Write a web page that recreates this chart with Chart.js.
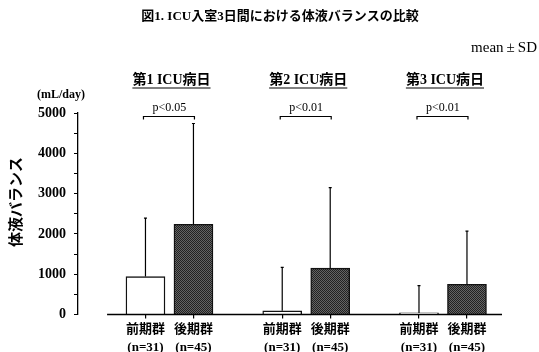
<!DOCTYPE html>
<html>
<head>
<meta charset="utf-8">
<script src="https://cdn.jsdelivr.net/npm/chart.js@4.4.1/dist/chart.umd.min.js"></script>
<style>
  html, body { margin: 0; padding: 0; background: #fff; }
  #wrap { width: 539px; height: 352px; }
</style>
</head>
<body>
<div id="wrap"><canvas id="chart" width="539" height="352"></canvas></div>
<script>
// ICU day headings and the two patient groups
const days = ['第1 ICU病日', '第2 ICU病日', '第3 ICU病日'];
const groups = ['前期群', '後期群'];
const groupN = ['(n=31)', '(n=45)'];

// Fluid balance (mL/day): mean and SD per ICU day
const earlyMean = [940, 90, 40];
const earlySD = [1450, 1080, 675];
const lateMean = [2240, 1150, 750];
const lateSD = [2500, 2000, 1320];

// Significance between groups on each day
const pLabels = ['p<0.05', 'p<0.01', 'p<0.01'];

// Y axis
const yMin = 0, yMax = 5000, yMajor = 1000, yMinor = 500;

// Layout of the x axis (in bar units)
const GROUP_STEP = 2.85;
const X_MIN = -1.406, X_MAX = 7.43, BASELINE_START = -0.8;

const SERIF_JP = "'Liberation Serif', 'Noto Sans CJK JP', serif";
const SANS_JP = "'Noto Sans CJK JP', sans-serif";

// Bar positions on the linear x scale: group g, bar i
const positions = [];
const values = [];
const sds = [];
const fills = [];

// Dithered dark fill for the later group
function darkPattern() {
  const c = document.createElement('canvas');
  c.width = 2; c.height = 2;
  const g = c.getContext('2d');
  g.fillStyle = '#646464'; g.fillRect(0, 0, 2, 2);
  g.fillStyle = '#222222'; g.fillRect(0, 0, 1, 1); g.fillRect(1, 1, 1, 1);
  return g.createPattern(c, 'repeat');
}
const dark = darkPattern();

for (let g = 0; g < days.length; g++) {
  positions.push(g * GROUP_STEP, g * GROUP_STEP + 1);
  values.push(earlyMean[g], lateMean[g]);
  sds.push(earlySD[g], lateSD[g]);
  fills.push('#ffffff', dark);
}

const annotations = {
  id: 'annotations',
  afterDraw(chart) {
    const ctx = chart.ctx;
    const area = chart.chartArea;
    const xs = chart.scales.x, ys = chart.scales.y;
    const meta = chart.getDatasetMeta(0);
    ctx.save();
    ctx.fillStyle = '#000';
    ctx.strokeStyle = '#000';

    // Figure title
    ctx.font = "bold 13px " + SERIF_JP;
    ctx.textAlign = 'center';
    ctx.textBaseline = 'middle';
    ctx.fillText('図1. ICU入室3日間における体液バランスの比較', 280, 17);

    // mean ± SD note
    ctx.font = "15px " + SERIF_JP;
    ctx.textAlign = 'right';
    ctx.fillText('mean\u2009±\u2009SD', 537, 48);

    // Unit label above the y axis
    ctx.font = "bold 12px " + SERIF_JP;
    ctx.textAlign = 'center';
    ctx.fillText('(mL/day)', 61, 95);

    // Rotated y-axis title
    ctx.save();
    ctx.translate(15, 202);
    ctx.rotate(-Math.PI / 2);
    ctx.font = "bold 15px " + SANS_JP;
    ctx.textAlign = 'center';
    ctx.textBaseline = 'middle';
    ctx.fillText('体液バランス', 0, 0);
    ctx.restore();

    // Baseline of the bars
    ctx.lineWidth = 1.5;
    ctx.beginPath();
    ctx.moveTo(xs.getPixelForValue(BASELINE_START), area.bottom);
    ctx.lineTo(area.right, area.bottom);
    ctx.stroke();

    // Error bars (mean + SD)
    ctx.lineWidth = 1.2;
    meta.data.forEach((bar, i) => {
      const top = ys.getPixelForValue(values[i] + sds[i]);
      ctx.beginPath();
      ctx.moveTo(bar.x, bar.y);
      ctx.lineTo(bar.x, top);
      ctx.moveTo(bar.x - 1.5, top);
      ctx.lineTo(bar.x + 1.5, top);
      ctx.stroke();
    });

    // Day headings, significance brackets
    for (let g = 0; g < days.length; g++) {
      const x1 = meta.data[g * 2].x, x2 = meta.data[g * 2 + 1].x;
      const cx = (x1 + x2) / 2;

      ctx.font = "bold 14px " + SERIF_JP;
      ctx.textAlign = 'center';
      ctx.textBaseline = 'middle';
      ctx.fillText(days[g], cx + 2, 80);
      const w = ctx.measureText(days[g]).width;
      ctx.lineWidth = 1.2;
      ctx.beginPath();
      ctx.moveTo(cx + 2 - w / 2, 88);
      ctx.lineTo(cx + 2 + w / 2, 88);
      ctx.stroke();

      const by = area.top + 3.5;
      ctx.lineWidth = 1.2;
      ctx.beginPath();
      ctx.moveTo(x1 - 2, by + 3);
      ctx.lineTo(x1 - 2, by);
      ctx.lineTo(x2 + 1, by);
      ctx.lineTo(x2 + 1, by + 3);
      ctx.stroke();

      ctx.font = "12px " + SERIF_JP;
      ctx.fillText(pLabels[g], cx, by - 9);
    }
    ctx.restore();
  }
};

new Chart(document.getElementById('chart'), {
  type: 'bar',
  data: {
    datasets: [{
      data: positions.map((x, i) => ({ x: x, y: values[i] })),
      backgroundColor: fills,
      borderColor: '#111',
      borderWidth: 1.4,
      barThickness: 39
    }]
  },
  options: {
    responsive: false,
    animation: false,
    devicePixelRatio: 1,
    layout: { padding: { top: 113, right: 37, bottom: 0, left: 0 } },
    plugins: { legend: { display: false }, tooltip: { enabled: false } },
    scales: {
      x: {
        type: 'linear',
        offset: false,
        min: X_MIN,
        max: X_MAX,
        afterBuildTicks: s => { s.ticks = positions.map(v => ({ value: v })); },
        afterFit: s => { s.height = 37.5; s.paddingLeft = 0; s.paddingRight = 0; },
        ticks: {
          autoSkip: false,
          maxRotation: 0,
          padding: 2,
          color: '#000',
          font: { family: SERIF_JP, size: 13, weight: 'bold', lineHeight: 1.38 },
          callback: (v, i) => [groups[i % 2], groupN[i % 2]]
        },
        grid: { offset: false, drawOnChartArea: false, drawTicks: true, tickLength: 4, tickColor: '#000', lineWidth: 1.2 },
        border: { display: false }
      },
      y: {
        min: yMin,
        max: yMax,
        afterFit: s => { s.width = 78; },
        ticks: {
          stepSize: yMinor,
          padding: 8,
          color: '#000',
          font: { family: SERIF_JP, size: 14, weight: 'bold' },
          callback: v => (v % yMajor === 0 ? String(v) : '')
        },
        grid: { drawOnChartArea: false, drawTicks: true, tickLength: 4, tickColor: '#000', lineWidth: 1 },
        border: { display: true, color: '#000', width: 1.3 }
      }
    }
  },
  plugins: [annotations]
});
</script>
</body>
</html>
